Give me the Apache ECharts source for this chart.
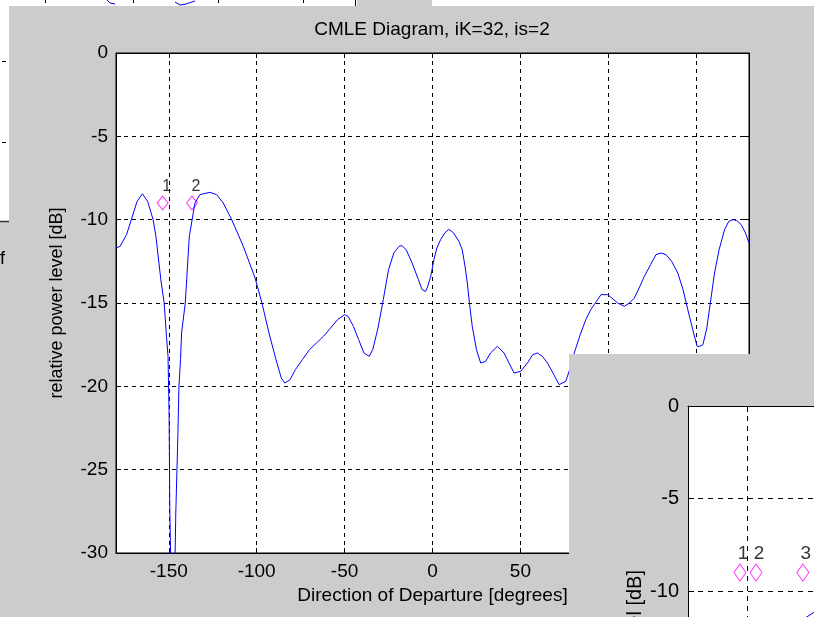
<!DOCTYPE html>
<html>
<head>
<meta charset="utf-8">
<script src="https://cdn.jsdelivr.net/npm/echarts@6/dist/echarts.min.js"></script>
<style>
  html, body { margin: 0; padding: 0; background: #cccccc; }
  #chart { width: 814px; height: 617px; }
</style>
</head>
<body>
<div id="chart"></div>
<script>
// main CMLE curve (deg, dB)
const degrees = [
  -180, -177.7, -174, -171, -168, -165, -162, -158.9, -157.3, -154.5,
  -152.6, -151.3, -150.4, -149.8, -149.4, -147.6, -146.0, -144.8, -144.2, -143.3,
  -142.7, -140.6, -139.8, -138.3, -135.1, -132.3, -126.6, -122.8, -119.0, -114.2,
  -107.6, -100.9, -97, -93, -89, -86, -84, -81, -78, -74,
  -70, -66, -62, -58, -54, -50, -48, -45, -42, -39,
  -36, -34, -31, -28, -25, -22, -19, -17.5, -15, -11.6,
  -8, -5.9, -4, -3, -1, 0.8, 2.5, 4.6, 7, 9.3,
  12, 15, 16.9, 18.5, 19.8, 21, 22.6, 25, 27.4, 30.2,
  33, 36.9, 40.7, 43.5, 46.4, 50.2, 54, 57, 59.7, 62.5,
  65.4, 69, 72, 75.8, 78, 80.6, 84, 87.2, 90, 92,
  95.8, 99.6, 102, 105.3, 109.1, 112, 114.8, 117.5, 120.5, 124,
  127.1, 130, 132.8, 136, 139.5, 142.5, 145.2, 148, 150.5, 152,
  153.8, 156, 158, 160.4, 163, 166.1, 168.5, 170.9, 173, 175.6,
  178, 180
];
const powerDb = [
  -11.7, -11.6, -10.9, -9.9, -8.9, -8.45, -8.9, -10.0, -11.0, -13.6,
  -15.0, -17.0, -18.2, -21.7, -27.4, -38, -27.6, -22.9, -20.0, -18.4,
  -16.8, -15.0, -13.6, -11.0, -9.0, -8.5, -8.36, -8.5, -9.0, -10.0,
  -11.6, -13.5, -15.0, -16.8, -18.4, -19.5, -19.8, -19.6, -19.0, -18.4,
  -17.8, -17.4, -17.0, -16.5, -16.0, -15.7, -15.8, -16.4, -17.2, -18.0,
  -18.2, -17.8, -16.5, -14.8, -13.0, -12.0, -11.6, -11.55, -11.8, -12.6,
  -13.6, -14.2, -14.3, -14.1, -13.4, -12.4, -11.7, -11.2, -10.8, -10.58,
  -10.8, -11.3, -11.8, -12.8, -13.8, -15.0, -16.4, -17.8, -18.6, -18.5,
  -18.0, -17.6, -18.0, -18.6, -19.2, -19.1, -18.6, -18.1, -18.0, -18.2,
  -18.6, -19.3, -19.9, -19.7, -19.0, -18.0, -16.9, -16.0, -15.4, -15.1,
  -14.5, -14.5, -14.7, -15.0, -15.2, -15.0, -14.7, -14.1, -13.4, -12.7,
  -12.1, -12.0, -12.1, -12.5, -13.2, -14.2, -15.4, -16.6, -17.6, -17.6,
  -17.5, -16.5, -15.0, -13.2, -11.8, -10.6, -10.1, -10.0, -10.05, -10.3,
  -10.8, -11.4
];

// source markers
const markerDeg = [-153.5, -136.8];
const markerDb = [-9, -9];
const markerNames = ['1', '2'];

// second figure window (only its top-left corner is visible)
const insetMarkerDeg = [-153.6, -145.4, -121.6];
const insetMarkerDb = [-9, -9, -9];
const insetMarkerNames = ['1', '2', '3'];
const insetDeg = [-122, -119.7, -115.9, -112];
const insetDb = [-11.6, -11.4, -11.15, -10.9];

const xTicks = [-150, -100, -50, 0, 50, 100, 150];
const insetYTicks = [0, -5, -10];

const FONT = 'Liberation Sans, Arial, Helvetica, sans-serif';
const zip = (a, b) => a.map((v, i) => [v, b[i]]);

const chart = echarts.init(document.getElementById('chart'));

const dashed = { show: true, lineStyle: { color: '#000', width: 1, type: [4, 4] } };
const blackLine = { show: true, onZero: false, lineStyle: { color: '#000', width: 1 } };
const noLine = { show: false, onZero: false };

chart.setOption({
  animation: false,
  backgroundColor: '#cccccc',
  textStyle: { fontFamily: FONT },
  title: {
    text: 'CMLE Diagram, iK=32, is=2',
    left: 432,
    top: 20,
    padding: 0,
    textAlign: 'center',
    textStyle: { fontFamily: FONT, fontSize: 19, fontWeight: 'normal', color: '#000' }
  },
  grid: [{
    left: 116, top: 53, width: 633, height: 500,
    show: true, backgroundColor: '#fff', borderColor: '#000', borderWidth: 1
  }, {
    left: 688, top: 406, width: 126, height: 211, z: 60,
    show: true, backgroundColor: '#fff', borderWidth: 0
  }],
  xAxis: [{
    type: 'value', gridIndex: 0, min: -180, max: 180, position: 'bottom',
    axisLine: blackLine,
    axisTick: { inside: true, length: 5, customValues: xTicks, lineStyle: { color: '#000' } },
    axisLabel: { customValues: xTicks, color: '#000', fontSize: 19, margin: 9, fontFamily: FONT },
    splitLine: dashed,
    name: 'Direction of Departure [degrees]', nameLocation: 'middle', nameGap: 33,
    nameTextStyle: { color: '#000', fontSize: 19, fontFamily: FONT }
  }, {
    type: 'value', gridIndex: 0, min: -180, max: 180, position: 'top',
    axisLine: blackLine,
    axisTick: { inside: true, length: 5, customValues: xTicks, lineStyle: { color: '#000' } },
    axisLabel: { show: false }, splitLine: { show: false }
  }, {
    // visible part of the second window: -180 .. about -116 degrees
    type: 'value', gridIndex: 1, min: -180, max: -115.94, position: 'bottom', z: 61,
    axisLine: noLine,
    axisTick: { show: false, customValues: xTicks },
    axisLabel: { show: false },
    splitLine: { show: true, lineStyle: { color: '#000', width: 1, type: [5, 5] } }
  }, {
    type: 'value', gridIndex: 1, min: -180, max: -115.94, position: 'top', z: 61,
    axisLine: blackLine,
    axisTick: { inside: true, length: 6, customValues: xTicks, lineStyle: { color: '#000' } },
    axisLabel: { show: false }, splitLine: { show: false }
  }],
  yAxis: [{
    type: 'value', gridIndex: 0, min: -30, max: 0, interval: 5, position: 'left',
    axisLine: blackLine,
    axisTick: { inside: true, length: 5, lineStyle: { color: '#000' } },
    axisLabel: { color: '#000', fontSize: 19, margin: 8, fontFamily: FONT },
    splitLine: dashed,
    name: 'relative power level [dB]', nameLocation: 'middle', nameGap: 50,
    nameTextStyle: { color: '#000', fontSize: 18, fontFamily: FONT }
  }, {
    type: 'value', gridIndex: 0, min: -30, max: 0, interval: 5, position: 'right',
    axisLine: blackLine,
    axisTick: { inside: true, length: 5, lineStyle: { color: '#000' } },
    axisLabel: { show: false }, splitLine: { show: false }
  }, {
    // visible part: 0 .. about -11.4 dB
    type: 'value', gridIndex: 1, min: -11.4, max: 0, position: 'left', z: 61,
    axisLine: blackLine,
    axisTick: { inside: true, length: 6, customValues: insetYTicks, lineStyle: { color: '#000' } },
    axisLabel: { customValues: insetYTicks, color: '#000', fontSize: 20, margin: 9, fontFamily: FONT },
    splitLine: { show: true, lineStyle: { color: '#000', width: 1, type: [5, 5] } }
  }],
  graphic: [
    // bits of the windows behind
    { type: 'rect', shape: { x: 0, y: 0, width: 814, height: 6 }, style: { fill: '#fff' }, z: 1 },
    { type: 'rect', shape: { x: 357, y: 0, width: 75, height: 6 }, style: { fill: '#cccccc' }, z: 1 },
    { type: 'line', shape: { x1: 355.5, y1: 0, x2: 355.5, y2: 6 }, style: { stroke: '#000' }, z: 1 },
    { type: 'line', shape: { x1: 45.5, y1: 0, x2: 45.5, y2: 3 }, style: { stroke: '#000' }, z: 1 },
    { type: 'line', shape: { x1: 133.5, y1: 0, x2: 133.5, y2: 3 }, style: { stroke: '#000' }, z: 1 },
    { type: 'line', shape: { x1: 218.5, y1: 0, x2: 218.5, y2: 3 }, style: { stroke: '#000' }, z: 1 },
    { type: 'line', shape: { x1: 303.5, y1: 0, x2: 303.5, y2: 3 }, style: { stroke: '#000' }, z: 1 },
    { type: 'polyline', shape: { points: [[107, 0], [110, 3], [115, 4]] }, style: { stroke: '#0000ff', fill: null }, z: 1 },
    { type: 'polyline', shape: { points: [[175, 2], [180, 5], [186, 4], [195, 1]] }, style: { stroke: '#0000ff', fill: null }, z: 1 },
    { type: 'rect', shape: { x: 0, y: 0, width: 9, height: 221 }, style: { fill: '#fff' }, z: 1 },
    { type: 'line', shape: { x1: 0, y1: 221.5, x2: 9, y2: 221.5 }, style: { stroke: '#333', lineWidth: 1.5 }, z: 1 },
    { type: 'line', shape: { x1: 2, y1: 61.5, x2: 6, y2: 61.5 }, style: { stroke: '#000' }, z: 1 },
    { type: 'line', shape: { x1: 2, y1: 142.5, x2: 6, y2: 142.5 }, style: { stroke: '#000' }, z: 1 },
    { type: 'text', x: 0, y: 250, style: { text: 'f', fill: '#000', font: '18px ' + FONT }, z: 1 },
    // second figure window lying over the plot
    { type: 'rect', shape: { x: 569, y: 354, width: 245, height: 263 }, style: { fill: '#cccccc' }, z: 50 },
    {
      type: 'text', x: 635, y: 570, rotation: Math.PI / 2, z: 55,
      style: {
        text: 'relative power level [dB]', fill: '#000', font: '20px ' + FONT,
        align: 'right', verticalAlign: 'middle'
      }
    }
  ],
  series: [{
    type: 'line', xAxisIndex: 0, yAxisIndex: 0,
    data: zip(degrees, powerDb),
    showSymbol: false, clip: true,
    lineStyle: { color: '#0000ff', width: 1 }
  }, {
    type: 'scatter', xAxisIndex: 0, yAxisIndex: 0,
    data: zip(markerDeg, markerDb),
    symbol: 'diamond', symbolSize: [11, 14],
    itemStyle: { color: 'rgba(0,0,0,0)', borderColor: '#ff00ff', borderWidth: 1 },
    label: {
      show: true, position: 'inside', offset: [4, -16],
      formatter: p => markerNames[p.dataIndex],
      color: '#000', fontSize: 16, fontFamily: FONT
    }
  }, {
    type: 'line', xAxisIndex: 2, yAxisIndex: 2, z: 62,
    data: zip(insetDeg, insetDb),
    showSymbol: false, clip: false,
    lineStyle: { color: '#0000ff', width: 1 }
  }, {
    type: 'scatter', xAxisIndex: 2, yAxisIndex: 2, z: 62,
    data: zip(insetMarkerDeg, insetMarkerDb),
    symbol: 'diamond', symbolSize: [12, 17],
    itemStyle: { color: 'rgba(0,0,0,0)', borderColor: '#ff00ff', borderWidth: 1 },
    label: {
      show: true, position: 'inside', offset: [3, -19],
      formatter: p => insetMarkerNames[p.dataIndex],
      color: '#000', fontSize: 19, fontFamily: FONT
    }
  }]
});
</script>
</body>
</html>
